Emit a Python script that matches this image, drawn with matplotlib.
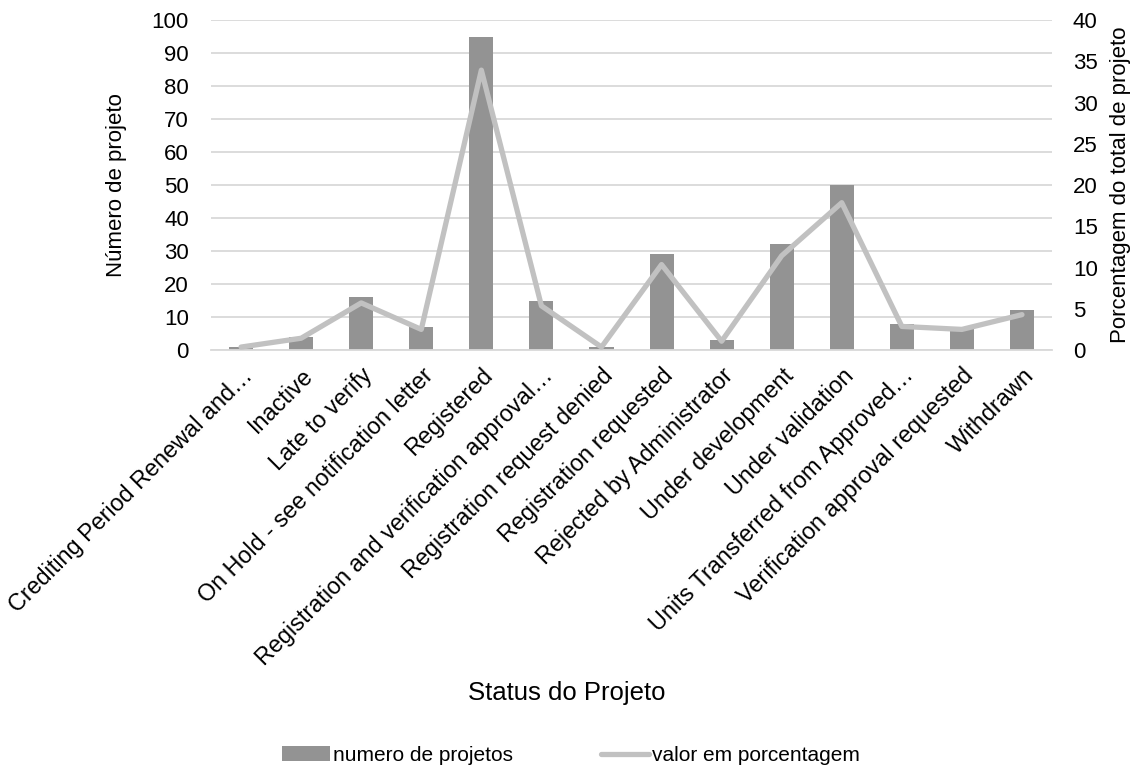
import numpy as np
import matplotlib.pyplot as plt

plt.rcParams['font.family'] = ['Liberation Sans', 'DejaVu Sans']

status = ["Crediting Period Renewal and…", "Inactive", "Late to verify",
          "On Hold - see notification letter", "Registered",
          "Registration and verification approval…", "Registration request denied",
          "Registration requested", "Rejected by Administrator", "Under development",
          "Under validation", "Units Transferred from Approved…",
          "Verification approval requested", "Withdrawn"]
numero = [1, 4, 16, 7, 95, 15, 1, 29, 3, 32, 50, 8, 7, 12]
porcentagem = [0.36, 1.43, 5.71, 2.50, 33.93, 5.36, 0.36, 10.36, 1.07, 11.43,
               17.86, 2.86, 2.50, 4.29]

fs = 16
bar_col = "#939393"
line_col = "#c1c1c1"

fig = plt.figure(figsize=(11.42, 7.71), dpi=100)
ax1 = fig.add_axes([0.1848, 0.546, 0.7364, 0.428])
ax2 = ax1.twinx()

x = np.arange(len(status))
b = ax1.bar(x, numero, width=0.4, color=bar_col, zorder=2)
l, = ax2.plot(x, porcentagem, color=line_col, lw=3.8, solid_capstyle='round',
              solid_joinstyle='round', zorder=3)

ax1.set_ylim(0, 100)
ax1.set_yticks(range(0, 101, 10))
ax2.set_ylim(0, 40)
ax2.set_yticks(range(0, 41, 5))
ax1.set_xlim(-0.5, len(status) - 0.5)

ax1.yaxis.grid(True, color="#d9d9d9", lw=1.3, zorder=0)
ax1.set_axisbelow(True)
for a in (ax1, ax2):
    for s in a.spines.values():
        s.set_visible(False)
    a.tick_params(length=0, labelsize=fs)
ax1.tick_params(axis='y', pad=16)
ax2.tick_params(axis='y', pad=15)
ax1.spines['bottom'].set_visible(True)
ax1.spines['bottom'].set_color("#d9d9d9")
ax1.spines['bottom'].set_linewidth(1.3)

ax1.set_xticks(x)
ax1.set_xticklabels(status, rotation=45, ha='right', va='top',
                    rotation_mode='anchor', fontsize=16.8)
ax1.tick_params(axis='x', pad=10)

ax1.set_ylabel("Número de projeto", fontsize=fs, labelpad=18)
ax2.set_ylabel("Porcentagem do total de projeto", fontsize=fs, labelpad=9)

fig.text(0.496, 0.101, "Status do Projeto", fontsize=18.5, ha='center', va='center')

fig.legend([b, l], ["numero de projetos", "valor em porcentagem"],
           loc='center', bbox_to_anchor=(0.5, 0.02), ncol=2, frameon=False,
           fontsize=15, handlelength=2.3, handletextpad=0.15, columnspacing=4.2)

plt.savefig("out.png", dpi=100)
